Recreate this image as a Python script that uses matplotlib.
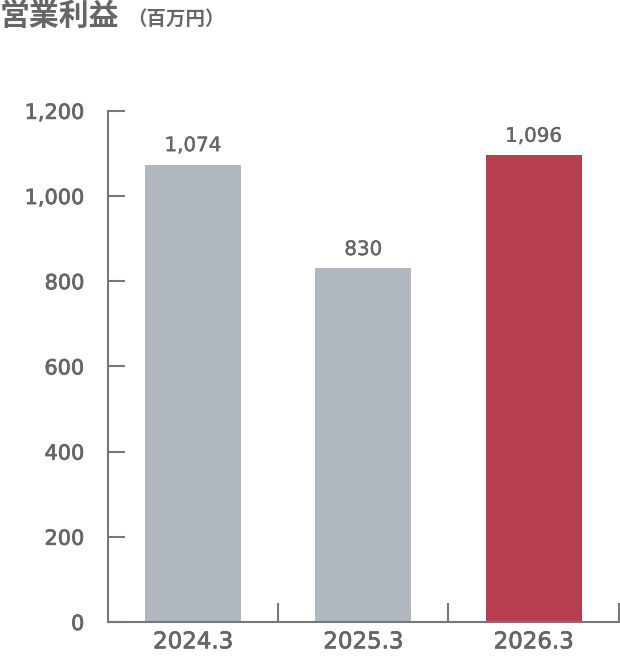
import matplotlib
matplotlib.use("Agg")
import matplotlib.pyplot as plt
import matplotlib.patheffects as pe

plt.rcParams['font.family'] = ['DejaVu Sans']

# data
years = ["2024.3", "2025.3", "2026.3"]
profit = [1074, 830, 1096]
colors = ["#b0b7be", "#b0b7be", "#b83e4f"]
yticks = [0, 200, 400, 600, 800, 1000, 1200]

txt = "#666666"
axc = "#777777"
# a thin outline makes the regular face look medium weight
thick = [pe.withStroke(linewidth=0.55, foreground=txt)]
mid = [pe.withStroke(linewidth=0.3, foreground=txt)]

fig = plt.figure(figsize=(6.2, 6.57), dpi=100)
ax = fig.add_axes([0.174, 0.0533, 0.824, 0.778])

x = range(len(years))
ax.bar(x, profit, width=0.565, color=colors)
for i, v in enumerate(profit):
    ax.text(i, v + 22, f"{v:,}", ha="center", va="bottom", fontsize=14.3,
            color=txt, path_effects=mid)

ax.set_xlim(-0.5, len(years) - 0.5)
ax.set_ylim(0, 1200)
ax.set_yticks(yticks)
ax.set_yticklabels([f"{t:,}" for t in yticks])
ax.set_xticks([i + 0.5 for i in range(len(years))])
ax.set_xticklabels([])
ax.set_xticks(list(x), minor=True)
ax.set_xticklabels(years, minor=True)

for s in ["top", "right"]:
    ax.spines[s].set_visible(False)
for s in ["left", "bottom"]:
    ax.spines[s].set_color(axc)
    ax.spines[s].set_linewidth(1.5)

ax.tick_params(axis="y", direction="in", length=12, width=1.5, color=axc,
               labelsize=15, labelcolor=txt, pad=17)
ax.tick_params(axis="x", which="major", direction="in", length=14, width=1.5, color=axc)
ax.tick_params(axis="x", which="minor", length=0, labelsize=16.5, labelcolor=txt, pad=6)
for lab in ax.get_yticklabels() + ax.get_xticklabels(minor=True):
    lab.set_path_effects(thick)

cjk = ['Noto Sans CJK JP', 'DejaVu Sans']
fig.text(0.0, 0.976, "営業利益", fontsize=21.5, fontweight="bold", color=txt,
         va="center", family=cjk)
fig.text(0.205, 0.970, "（百万円）", fontsize=14, fontweight="bold", color=txt,
         va="center", family=cjk)

fig.savefig("out.png", dpi=100)
